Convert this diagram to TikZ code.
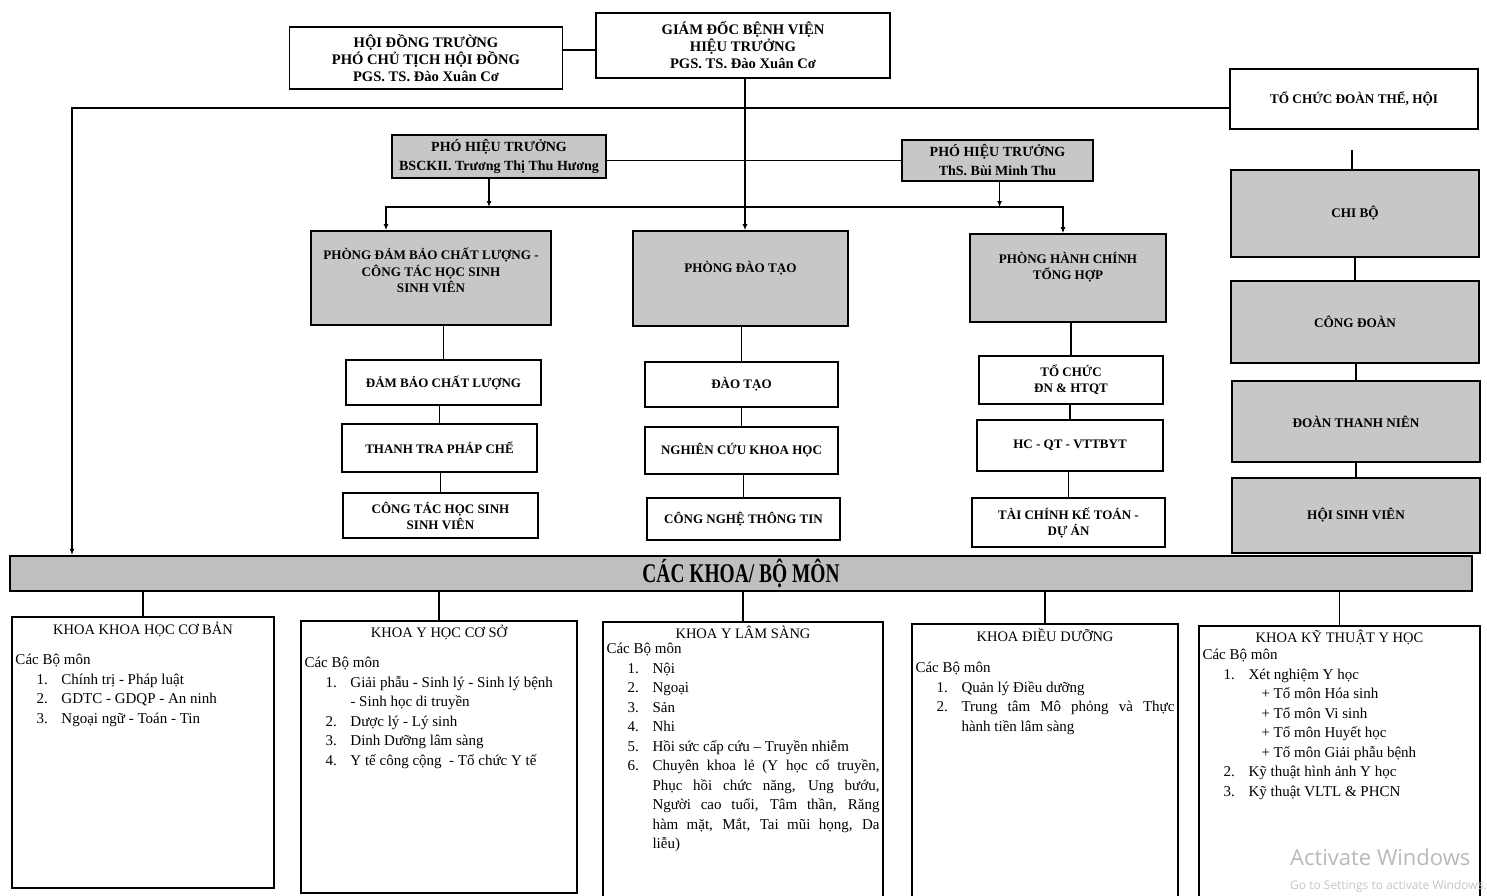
\documentclass[tikz,border=0pt]{standalone}
\usepackage{fontspec}
\setmainfont{Liberation Serif}
\newfontfamily\bandfont[FakeStretch=0.72]{Liberation Serif}
\newfontfamily\wmfont{Open Sans}
\usetikzlibrary{arrows.meta}
\definecolor{boxgray}{gray}{0.78}
\definecolor{bandgray}{gray}{0.75}
% Muc trong danh sach bo mon
\newcommand{\bmitem}[2]{\par\noindent\hangindent=46pt\hangafter=1\hspace*{21pt}\makebox[25pt][l]{#1}#2\par}
\newcommand{\bmsub}[1]{\par\noindent\hspace*{59pt}#1\par}
\begin{document}
\begin{tikzpicture}[
	x=1pt, y=-1pt,%1 Einheit = 1 Pixel der Vorlage
	whitebox/.style={draw, line width=1.7pt, fill=white, align=center, inner sep=2pt},
	graybox/.style={whitebox, fill=boxgray},
	khoabox/.style={draw, line width=1.4pt, fill=white},
	conn/.style={line width=1.6pt},
	arr/.style={conn, -{Latex[length=6pt,width=5pt]}},
	topfont/.style={font=\bfseries\fontsize{14.6}{17}\selectfont},
	phtfont/.style={font=\bfseries\fontsize{14}{19}\selectfont},
	phongfont/.style={font=\bfseries\fontsize{13.1}{16.5}\selectfont},
	subfont/.style={font=\bfseries\fontsize{13}{16}\selectfont},
	doanfont/.style={font=\bfseries\fontsize{13.2}{15}\selectfont},
	titlefont/.style={font=\fontsize{14.5}{17}\selectfont, inner sep=1pt, anchor=north},
	bodyfont/.style={font=\fontsize{15}{19.5}\selectfont, inner sep=0pt, anchor=north west, align=justify}
]
\useasboundingbox (0,0) rectangle (1487,895);
%
% Lanh dao
\node(hdt)%
    [whitebox, topfont, minimum width=273pt, minimum height=62pt]%
    at (426,58)%
    {HỘI ĐỒNG TRƯỜNG\\PHÓ CHỦ TỊCH HỘI ĐỒNG\\PGS. TS. Đào Xuân Cơ};%
\node(gd)%
    [whitebox, topfont, minimum width=294pt, minimum height=65pt]%
    at (743,45.5)%
    {GIÁM ĐỐC BỆNH VIỆN\\HIỆU TRƯỞNG\\PGS. TS. Đào Xuân Cơ};%
\node(tcdt)%
    [whitebox, doanfont, minimum width=248pt, minimum height=60pt]%
    at (1354,99)%
    {TỔ CHỨC ĐOÀN THỂ, HỘI};%
\node(pht1)%
    [graybox, phtfont, minimum width=214pt, minimum height=43pt]%
    at (499,156.5)%
    {PHÓ HIỆU TRƯỞNG\\BSCKII. Trương Thị Thu Hương};%
\node(pht2)%
    [graybox, phtfont, minimum width=191pt, minimum height=41pt]%
    at (997.5,160.5)%
    {PHÓ HIỆU TRƯỞNG\\ThS. Bùi Minh Thu};%
%
% Phong ban
\node(pdbcl)%
    [graybox, phongfont, minimum width=240pt, minimum height=94pt, text depth=15pt]%
    at (431,278)%
    {PHÒNG ĐẢM BẢO CHẤT LƯỢNG -\\CÔNG TÁC HỌC SINH\\SINH VIÊN};%
\node(pdt)%
    [graybox, phongfont, minimum width=215pt, minimum height=95pt, text depth=24pt]%
    at (740.5,278.5)%
    {PHÒNG ĐÀO TẠO};%
\node(phcth)%
    [graybox, phongfont, minimum width=196pt, minimum height=88pt, text depth=24pt]%
    at (1068,278)%
    {PHÒNG HÀNH CHÍNH\\TỔNG HỢP};%
%
\node(s11)[whitebox, subfont, minimum width=195pt, minimum height=45pt] at (443.5,382.5) {ĐẢM BẢO CHẤT LƯỢNG};%
\node(s12)[whitebox, subfont, minimum width=195pt, minimum height=48pt] at (439.5,448) {THANH TRA PHÁP CHẾ};%
\node(s13)[whitebox, subfont, minimum width=195pt, minimum height=45pt] at (440.5,515.5) {CÔNG TÁC HỌC SINH\\SINH VIÊN};%
\node(s21)[whitebox, subfont, minimum width=193pt, minimum height=45pt] at (741.5,384.5) {ĐÀO TẠO};%
\node(s22)[whitebox, subfont, minimum width=193pt, minimum height=47pt] at (741.5,450.5) {NGHIÊN CỨU KHOA HỌC};%
\node(s23)[whitebox, subfont, minimum width=193pt, minimum height=42pt] at (743.5,519) {CÔNG NGHỆ THÔNG TIN};%
\node(s31)[whitebox, subfont, minimum width=184pt, minimum height=48pt] at (1071,380) {TỔ CHỨC\\ĐN \& HTQT};%
\node(s32)[whitebox, subfont, minimum width=186pt, minimum height=51pt] at (1070,445.5) {HC - QT - VTTBYT};%
\node(s33)[whitebox, subfont, minimum width=193pt, minimum height=49pt] at (1068.5,522.5) {TÀI CHÍNH KẾ TOÁN -\\DỰ ÁN};%
%
% Doan the
\node(cb)[graybox, doanfont, minimum width=248pt, minimum height=87pt] at (1355,213.5) {CHI BỘ};%
\node(cd)[graybox, doanfont, minimum width=248pt, minimum height=82pt] at (1355,322) {CÔNG ĐOÀN};%
\node(dtn)[graybox, doanfont, minimum width=248pt, minimum height=81pt] at (1356,421.5) {ĐOÀN THANH NIÊN};%
\node(hsv)[graybox, doanfont, minimum width=248pt, minimum height=75pt] at (1356,515.5) {HỘI SINH VIÊN};%
%
\node(band)%
    [draw, line width=1.7pt, fill=bandgray, minimum width=1462pt, minimum height=33pt,%
     font=\bandfont\bfseries\fontsize{27}{28}\selectfont]%
    at (741,573.5)%
    {CÁC KHOA/ BỘ MÔN};%
%
% Khoa
\node(k1)[khoabox, minimum width=262pt, minimum height=271pt] at (143,752.5) {};%
\node(k2)[khoabox, minimum width=276pt, minimum height=272pt] at (439,757) {};%
\node(k3)[khoabox, minimum width=280pt, minimum height=283pt] at (743,763.5) {};%
\node(k4)[khoabox, minimum width=266pt, minimum height=281pt] at (1045,764.5) {};%
\node(k5)[khoabox, minimum width=281pt, minimum height=279pt] at (1339.5,765.5) {};%
%
\node(k1t)[titlefont] at ([yshift=-5pt]k1.north) {KHOA KHOA HỌC CƠ BẢN};%
\node(k2t)[titlefont] at ([yshift=-4pt]k2.north) {KHOA Y HỌC CƠ SỞ};%
\node(k3t)[titlefont] at ([yshift=-4pt]k3.north) {KHOA Y LÂM SÀNG};%
\node(k4t)[titlefont] at ([yshift=-4pt]k4.north) {KHOA ĐIỀU DƯỠNG};%
\node(k5t)[titlefont] at ([yshift=-4pt]k5.north) {KHOA KỸ THUẬT Y HỌC};%
%
\node(k1b)[bodyfont, text width=255pt] at ([xshift=4pt, yshift=-38pt]k1.north west)%
    {Các Bộ môn
     \bmitem{1.}{Chính trị - Pháp luật}
     \bmitem{2.}{GDTC - GDQP - An ninh}
     \bmitem{3.}{Ngoại ngữ - Toán - Tin}};%
\node(k2b)[bodyfont, text width=269pt] at ([xshift=4pt, yshift=-37pt]k2.north west)%
    {Các Bộ môn
     \bmitem{1.}{Giải phẫu - Sinh lý - Sinh lý bệnh\newline - Sinh học di truyền}
     \bmitem{2.}{Dược lý - Lý sinh}
     \bmitem{3.}{Dinh Dưỡng lâm sàng}
     \bmitem{4.}{Y tế công cộng\ \ - Tổ chức Y tế}};%
\node(k3b)[bodyfont, text width=273pt] at ([xshift=4pt, yshift=-22pt]k3.north west)%
    {Các Bộ môn
     \bmitem{1.}{Nội}
     \bmitem{2.}{Ngoại}
     \bmitem{3.}{Sản}
     \bmitem{4.}{Nhi}
     \bmitem{5.}{Hồi sức cấp cứu – Truyền nhiễm}
     \bmitem{6.}{Chuyên khoa lẻ (Y học cổ truyền,\linebreak Phục hồi chức năng, Ung bướu,\linebreak
       Người cao tuổi, Tâm thần, Răng\linebreak hàm mặt, Mắt, Tai mũi họng, Da\linebreak liễu)}};%
\node(k4b)[bodyfont, text width=259pt] at ([xshift=4pt, yshift=-39pt]k4.north west)%
    {Các Bộ môn
     \bmitem{1.}{Quản lý Điều dưỡng}
     \bmitem{2.}{Trung tâm Mô phỏng và Thực\linebreak hành tiền lâm sàng}};%
\node(k5b)[bodyfont, text width=274pt] at ([xshift=4pt, yshift=-24pt]k5.north west)%
    {Các Bộ môn
     \bmitem{1.}{Xét nghiệm Y học}
     \bmsub{+ Tổ môn Hóa sinh}
     \bmsub{+ Tổ môn Vi sinh}
     \bmsub{+ Tổ môn Huyết học}
     \bmsub{+ Tổ môn Giải phẫu bệnh}
     \bmitem{2.}{Kỹ thuật hình ảnh Y học}
     \bmitem{3.}{Kỹ thuật VLTL \& PHCN}};%
%
% Duong noi
\coordinate(lt) at (72,108);%
\coordinate(bus) at (740,207);%
\coordinate(dtstub) at (1352,150);%
\draw[conn] ([yshift=8pt]hdt.east) -- ([yshift=8pt]hdt.east -| gd.west);%
\draw[arr] ([xshift=2pt]gd.south) -- ([xshift=2pt]gd.south |- pdt.north);%
\draw[arr] ([yshift=-9pt]tcdt.west) -| (lt |- band.north);%
\draw[conn] (pht2.west) -- (pht2.west -| pht1.east);%
\draw[arr] ([xshift=-10pt]pht1.south) -- ([xshift=-10pt]pht1.south |- bus);%
\draw[arr] ([xshift=2pt]pht2.south) -- ([xshift=2pt]pht2.south |- bus);%
\draw[arr] (bus) -| ([xshift=-45pt]pdbcl.north);%
\draw[arr] (bus) -| ([xshift=-5pt]phcth.north);%
\draw[conn] (cb.north -| dtstub) -- (dtstub);%
\foreach \a/\b in {pdbcl/s11, s11/s12, s12/s13, pdt/s21, s21/s22, s22/s23,%
                   phcth/s31, s31/s32, s32/s33, cb/cd, cd/dtn, dtn/hsv}%
    \draw[conn] (\b.north) -- (\b.north |- \a.south);%
\foreach \k in {k1,k2,k3,k4,k5}%
    \draw[conn] (\k.north |- band.south) -- (\k.north);%
%
\node(wm1)[anchor=west, text=gray!55, font=\wmfont\fontsize{22}{24}\selectfont, inner sep=0pt] at (1290,857) {Activate Windows};%
\node(wm2)[anchor=west, text=gray!45, font=\wmfont\fontsize{12}{14}\selectfont, inner sep=0pt] at (1290,886) {Go to Settings to activate Windows.};%
%
\end{tikzpicture}
\end{document}
